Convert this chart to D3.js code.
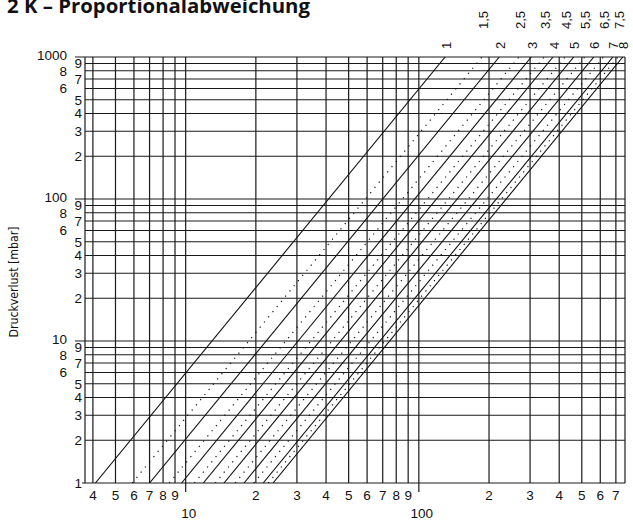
<!DOCTYPE html>
<html>
<head>
<meta charset="utf-8">
<script src="https://cdn.jsdelivr.net/npm/d3@7"></script>
<style>
  body { margin: 0; background: #fff; }
  svg { display: block; }
  .tick-lbl { font-family: "Liberation Sans", Arial, sans-serif; font-size: 13.5px; fill: #111; }
  .set-lbl { font-family: "Liberation Sans", Arial, sans-serif; font-size: 13px; fill: #111; }
</style>
</head>
<body>
<div id="chart"></div>
<script>
// Voreinstellung (presetting) of each line
var settings = ["1", "1,5", "2", "2,5", "3", "3,5", "4", "4,5", "5", "5,5", "6", "6,5", "7", "7,5", "8"];
var flowAt1mbar = [4.1, 5.9, 7.0, 8.5, 9.6, 10.9, 11.9, 13.4, 14.6, 16.3, 17.8, 19.6, 21.5, 22.6, 23.7];
// dotted lines = half steps
var dotted = [false, true, false, true, false, true, false, true, false, true, false, true, false, true, false];

var xGrid = [4, 5, 6, 7, 8, 9, 10, 20, 30, 40, 50, 60, 70, 80, 90, 100, 200, 300, 400, 500, 600, 700];
var xDigitLabels = ["4", "5", "6", "7", "8", "9", "", "2", "3", "4", "5", "6", "7", "8", "9", "", "2", "3", "4", "5", "6", "7"];
var xDecades = [10, 100];

var yGrid = [1, 2, 3, 4, 5, 6, 7, 8, 9, 10, 20, 30, 40, 50, 60, 70, 80, 90, 100, 200, 300, 400, 500, 600, 700, 800, 900, 1000];
var yLabels = ["1", "2", "3", "4", "5", "6", "7", "8", "9", "10", "2", "3", "4", "5", "6", "7", "8", "9", "100", "2", "3", "4", "5", "6", "7", "8", "9", "1000"];

var W = 633, H = 523;

var x = d3.scaleLog().domain([3.7, 766]).range([85, 625]);
var y = d3.scaleLog().domain([1, 1000]).range([483, 57]);

var svg = d3.select("#chart").append("svg")
    .attr("width", W)
    .attr("height", H);

// title, cut at the top like in the scan
svg.append("text")
    .attr("x", 7)
    .attr("y", 13)
    .attr("textLength", 303)
    .attr("lengthAdjust", "spacingAndGlyphs")
    .style("font-family", "'Open Sans', 'Noto Sans', sans-serif")
    .style("font-weight", "bold")
    .style("font-size", "20px")
    .style("fill", "#111")
    .text("2 K – Proportionalabweichung");

svg.append("defs").append("clipPath").attr("id", "plot-clip")
  .append("rect")
    .attr("x", x.range()[0]).attr("y", y.range()[1])
    .attr("width", x.range()[1] - x.range()[0])
    .attr("height", y.range()[0] - y.range()[1]);

var grid = svg.append("g").style("stroke", "#1a1a1a").style("stroke-width", 1.2);

grid.selectAll("line.v").data(xGrid).enter().append("line")
    .attr("class", "v")
    .attr("x1", function(d) { return x(d); })
    .attr("x2", function(d) { return x(d); })
    .attr("y1", y(1000))
    .attr("y2", function(d) { return xDecades.indexOf(d) >= 0 ? y(1) + 9 : y(1); });

grid.selectAll("line.h").data(yGrid).enter().append("line")
    .attr("class", "h")
    .attr("y1", function(d) { return y(d); })
    .attr("y2", function(d) { return y(d); })
    .attr("x1", function(d) {
      if (d == 1) return x.range()[0] - 3;
      return [10, 100, 1000].indexOf(d) >= 0 ? x.range()[0] - 10 : x.range()[0];
    })
    .attr("x2", x.range()[1]);

// borders
grid.append("line").attr("x1", x.range()[0]).attr("x2", x.range()[0]).attr("y1", y(1000)).attr("y2", y(1));
grid.append("line").attr("x1", x.range()[1]).attr("x2", x.range()[1]).attr("y1", y(1000)).attr("y2", y(1));

// x tick labels
svg.selectAll("text.xl").data(xGrid).enter().append("text")
    .attr("class", "tick-lbl xl")
    .attr("x", function(d) { return x(d); })
    .attr("y", 500)
    .attr("text-anchor", "middle")
    .text(function(d, i) { return xDigitLabels[i]; });

svg.selectAll("text.xd").data(xDecades).enter().append("text")
    .attr("class", "tick-lbl xd")
    .attr("x", function(d) { return x(d) + 3; })
    .attr("y", 518)
    .attr("text-anchor", "middle")
    .text(function(d) { return d; });

// y tick labels, staggered in two columns
svg.selectAll("text.yl").data(yGrid).enter().append("text")
    .attr("class", "tick-lbl yl")
    .attr("x", function(d, i) {
      var lab = yLabels[i];
      return (lab.length > 1 || lab == "6" || lab == "8") ? 67 : 82;
    })
    .attr("y", function(d, i) { return y(d) + (yLabels[i].length > 1 ? -2 : 0); })
    .attr("dy", "0.36em")
    .attr("text-anchor", "end")
    .text(function(d, i) { return yLabels[i]; });

// y axis title
svg.append("text")
    .attr("transform", "translate(18,282) rotate(-90)")
    .attr("text-anchor", "middle")
    .attr("textLength", 111)
    .attr("lengthAdjust", "spacingAndGlyphs")
    .style("font-family", "'Liberation Sans Narrow', 'DejaVu Sans Condensed', sans-serif")
    .style("font-size", "12px")
    .style("fill", "#111")
    .text("Druckverlust [mbar]");

// presetting lines: dp = (V / V1)^2
var line = d3.line()
    .x(function(d) { return x(d.v); })
    .y(function(d) { return y(d.dp); });

var lineData = settings.map(function(s, i) {
  return {
    name: s,
    dotted: dotted[i],
    pts: [1, 1000].map(function(dp) { return {dp: dp, v: flowAt1mbar[i] * Math.sqrt(dp)}; })
  };
});

svg.append("g").attr("clip-path", "url(#plot-clip)")
  .selectAll("path").data(lineData).enter().append("path")
    .attr("d", function(d) { return line(d.pts); })
    .style("fill", "none")
    .style("stroke", "#111")
    .style("stroke-width", function(d) { return d.dotted ? 1.2 : 1.1; })
    .style("stroke-dasharray", function(d) { return d.dotted ? "1.2,5.5" : null; });

// line labels along the top, rotated
svg.selectAll("text.sl").data(lineData).enter().append("text")
    .attr("class", "set-lbl sl")
    .attr("transform", function(d) {
      var tx = x(d.pts[1].v) + 1;
      var ty = d.dotted ? 29 : 49;
      return "translate(" + tx + "," + ty + ") rotate(-90)";
    })
    .attr("dy", "0.35em")
    .attr("text-anchor", "start")
    .text(function(d) { return d.name; });
</script>
</body>
</html>
